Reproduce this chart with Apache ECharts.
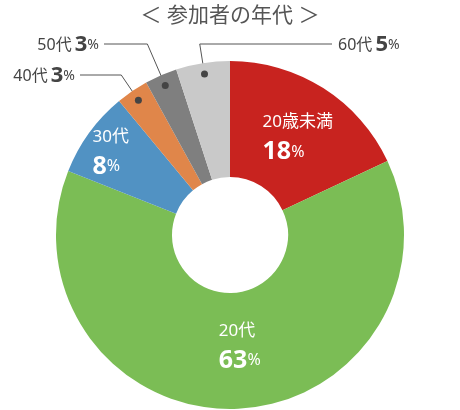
<!DOCTYPE html>
<html><head><meta charset="utf-8">
<script src="https://cdn.jsdelivr.net/npm/echarts@6/dist/echarts.min.js"></script>
<style>html,body{margin:0;padding:0;background:#fff}#c{width:460px;height:410px}</style>
</head><body><div id="c"></div>
<script>
const title = '＜ 参加者の年代 ＞';
const categories = ['20歳未満', '20代', '30代', '40代', '50代', '60代'];
const values = [18, 63, 8, 3, 3, 5];
const colors = ['#c8231f', '#7bbd55', '#5192c3', '#e0864a', '#7f7f7f', '#c9c9c9'];
const insideNames = ['20歳未満', '20代', '30代'];
const outsideNames = ['40代', '50代', '60代'];

// label placement (style/layout only)
const insideOffset = { '20歳未満': [4, 4], '20代': [6, -7], '30代': [-23, -12] };
const outerLayout = {
  '40代': { y: 75, lineEnd: 80, align: 'right' },
  '50代': { y: 44, lineEnd: 104, align: 'right' },
  '60代': { y: 44, lineEnd: 332, align: 'left' }
};

const FONT = '"Noto Sans", "Noto Sans CJK JP", sans-serif';
const CENTER = ['50%', 235];

const mainData = categories.map((n, i) => ({
  name: n, value: values[i],
  itemStyle: { color: colors[i] },
  label: insideNames.includes(n)
    ? { show: true, position: 'inside', offset: insideOffset[n] }
    : { show: false }
}));

const lineData = categories.map((n, i) => ({
  name: n, value: values[i],
  label: { show: outsideNames.includes(n) },
  labelLine: { show: outsideNames.includes(n) }
}));

const dotData = categories.map((n, i) => ({
  name: n, value: values[i],
  label: { show: outsideNames.includes(n) }
}));

const chart = echarts.init(document.getElementById('c'), null, { renderer: 'canvas' });
chart.setOption({
  animation: false,
  title: {
    text: title, left: 'center', top: 1,
    textStyle: { fontFamily: FONT, fontSize: 21, fontWeight: 'normal', color: '#555' }
  },
  series: [
    {
      type: 'pie', center: CENTER, radius: [58, 174], startAngle: 90, clockwise: true,
      silent: true, avoidLabelOverlap: false,
      itemStyle: { borderWidth: 0 },
      label: {
        fontFamily: FONT,
        formatter: p => '{n|' + p.name + '}\n{v|' + p.value + '}{p|%}',
        rich: {
          n: { fontFamily: FONT, fontSize: 17, color: '#fff', align: 'left', lineHeight: 27 },
          v: { fontFamily: FONT, fontSize: 25, fontWeight: 'bold', color: '#fff', align: 'left', lineHeight: 32 },
          p: { fontFamily: FONT, fontSize: 16, color: '#fff', align: 'left', lineHeight: 32 }
        }
      },
      data: mainData
    },
    {
      type: 'pie', center: CENTER, radius: [0, 160], startAngle: 90, clockwise: true,
      silent: true, avoidLabelOverlap: false,
      itemStyle: { color: 'rgba(0,0,0,0)' },
      label: {
        position: 'outside', fontFamily: FONT,
        formatter: p => '{n|' + p.name + '} {v|' + p.value + '}{p|%}',
        rich: {
          n: { fontFamily: FONT, fontSize: 16, color: '#444' },
          v: { fontFamily: FONT, fontSize: 22, fontWeight: 'bold', color: '#444' },
          p: { fontFamily: FONT, fontSize: 14, color: '#444' }
        }
      },
      labelLine: { show: true, length: 20, length2: 20, lineStyle: { color: '#555', width: 1 } },
      labelLayout: function (p) {
        const cfg = outerLayout[categories[p.dataIndex]];
        if (!cfg || !p.labelLinePoints) return {};
        const a = p.labelLinePoints[0], b = p.labelLinePoints[1];
        const dx = b[0] - a[0], dy = b[1] - a[1];
        const t = (cfg.y - a[1]) / dy;
        const mx = a[0] + t * dx;
        return {
          x: cfg.align === 'left' ? cfg.lineEnd + 6 : cfg.lineEnd - 5,
          y: cfg.y + 1, align: cfg.align, verticalAlign: 'middle',
          labelLinePoints: [a, [mx, cfg.y], [cfg.lineEnd, cfg.y]]
        };
      },
      data: lineData
    },
    {
      type: 'pie', center: CENTER, radius: [150, 170], startAngle: 90, clockwise: true,
      silent: true, avoidLabelOverlap: false,
      itemStyle: { color: 'rgba(0,0,0,0)' },
      label: {
        position: 'inside',
        formatter: '{d|}',
        rich: { d: { width: 7, height: 7, borderRadius: 3.5, backgroundColor: '#444' } }
      },
      labelLine: { show: false },
      data: dotData
    }
  ]
});
</script>
</body></html>
